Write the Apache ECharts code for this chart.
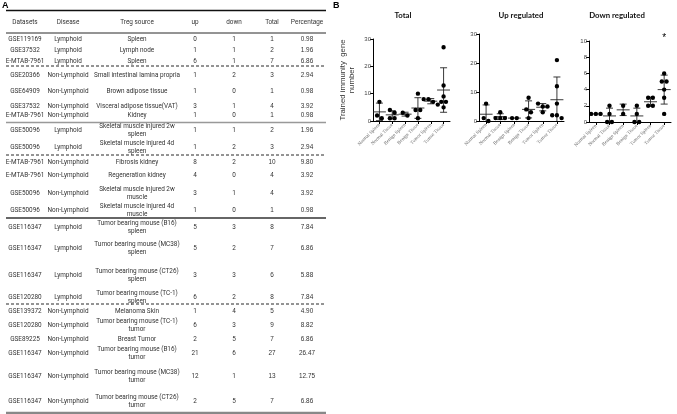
<!DOCTYPE html>
<html><head><meta charset="utf-8">
<script src="https://cdn.jsdelivr.net/npm/echarts@6/dist/echarts.min.js"></script>
<style>html,body{margin:0;padding:0;background:#fff}#c{width:677px;height:414px}</style>
</head><body><div id="c"></div>
<script>
// ---------------- Table data (panel A) ----------------
const tableHeaders = ['Datasets','Disease','Treg source','up','down','Total','Percentage'];
const datasets = ['GSE119169','GSE37532','E-MTAB-7961','GSE20366','GSE64909','GSE37532','E-MTAB-7961',
  'GSE50096','GSE50096','E-MTAB-7961','E-MTAB-7961','GSE50096','GSE50096',
  'GSE116347','GSE116347','GSE116347','GSE120280',
  'GSE139372','GSE120280','GSE89225','GSE116347','GSE116347','GSE116347'];
const diseases = ['Lymphoid','Lymphoid','Lymphoid','Non-Lymphoid','Non-Lymphoid','Non-Lymphoid','Non-Lymphoid',
  'Lymphoid','Lymphoid','Non-Lymphoid','Non-Lymphoid','Non-Lymphoid','Non-Lymphoid',
  'Lymphoid','Lymphoid','Lymphoid','Lymphoid',
  'Non-Lymphoid','Non-Lymphoid','Non-Lymphoid','Non-Lymphoid','Non-Lymphoid','Non-Lymphoid'];
const tregSources = ['Spleen','Lymph node','Spleen','Small intestinal lamina propria','Brown adipose tissue','Visceral adipose tissue(VAT)','Kidney',
  'Skeletal muscle injured 2w\nspleen','Skeletal muscle injured 4d\nspleen','Fibrosis kidney','Regeneration kidney',
  'Skeletal muscle injured 2w\nmuscle','Skeletal muscle injured 4d\nmuscle',
  'Tumor bearing mouse (B16)\nspleen','Tumor bearing mouse (MC38)\nspleen','Tumor bearing mouse (CT26)\nspleen','Tumor bearing mouse (TC-1)\nspleen',
  'Melanoma Skin','Tumor bearing mouse (TC-1)\ntumor','Breast Tumor','Tumor bearing mouse (B16)\ntumor','Tumor bearing mouse (MC38)\ntumor','Tumor bearing mouse (CT26)\ntumor'];
const upCounts = [0,1,6,1,1,3,1,1,1,8,4,3,1,5,5,3,6,1,6,2,21,12,2];
const downCounts = [1,1,1,2,0,1,0,1,2,2,0,1,0,3,2,3,2,4,3,5,6,1,5];
const totalCounts = [1,2,7,3,1,4,1,2,3,10,4,4,1,8,7,6,8,5,9,7,27,13,7];
const percentages = ['0.98','1.96','6.86','2.94','0.98','3.92','0.98','1.96','2.94','9.80','3.92','3.92','0.98',
  '7.84','6.86','5.88','7.84','4.90','8.82','6.86','26.47','12.75','6.86'];
// group (panel B category) each table row belongs to
const rowGroup = [0,0,0,1,1,1,1,2,2,3,3,3,3,4,4,4,4,5,5,5,5,5,5];

// ---------------- Panel B ----------------
const categories = ['Normal Spleen','Normal Tissue','Benign Spleen','Benign Tissue','Tumor Spleen','Tumor Tissue'];
const chartTitles = ['Total','Up regulated','Down regulated'];
const yAxisName = 'Trained immunity  gene\nnumber';
const yMax = [30, 30, 10];
const yStep = [10, 10, 2];
const significance = [{chart:2, category:5, y:10.3, text:'*'}];

function groupBy(values){
  const g = categories.map(()=>[]);
  values.forEach((v,i)=>g[rowGroup[i]].push(v));
  return g;
}
const groupsPerChart = [groupBy(totalCounts), groupBy(upCounts), groupBy(downCounts)];

// ---------------- layout (positions only) ----------------
const colX = [25, 68, 137, 195, 234, 272, 307];
const headerY = 22;
const rowY = [39,50,61,75,91,106,115,130,147,162,175,193,210,227,248,275,297,311,325,339,353,376,401];
const rules = [
  {y:10.5, w:1.3, c:'#111'},
  {y:33, w:0.9, c:'#111'},
  {y:66, w:0.9, c:'#111', dash:[3,2]},
  {y:122.5, w:1.3, c:'#999'},
  {y:155, w:0.9, c:'#111', dash:[3,2]},
  {y:218, w:1.3, c:'#333'},
  {y:304, w:0.9, c:'#111', dash:[3,2]},
  {y:413, w:2.5, c:'#888'}
];
const grids = [
  {left:373, top:39, width:77, height:82},
  {left:479, top:34, width:85, height:87},
  {left:589, top:41, width:82, height:81}
];
const titleX = [403, 521, 617];

const fontTable = 'Roboto';
const graphics = [];
graphics.push({type:'text', x:2, y:1, style:{text:'A', font:'bold 9px "Liberation Sans"', fill:'#000'}});
graphics.push({type:'text', x:333, y:1, style:{text:'B', font:'bold 9px "Liberation Sans"', fill:'#000'}});
rules.forEach(r=>graphics.push({type:'line', shape:{x1:6,y1:r.y,x2:326,y2:r.y},
  style:{stroke:r.c, lineWidth:r.w, lineDash:r.dash||null}, silent:true}));
function cell(x,y,s,arial){
  graphics.push({type:'text', x:x, y:y, silent:true, style:{text:String(s), textAlign:'center', textVerticalAlign:'middle',
    font:(arial?'6.4px "Liberation Sans"':'6.4px '+fontTable), fill:'#333', lineHeight:8}});
}
tableHeaders.forEach((h,i)=>cell(colX[i], headerY, h, i>=5));
rowY.forEach((y,i)=>{
  cell(colX[0], y, datasets[i]);
  cell(colX[1], y, diseases[i]);
  cell(colX[2], y, tregSources[i]);
  cell(colX[3], y, upCounts[i]);
  cell(colX[4], y, downCounts[i]);
  cell(colX[5], y, totalCounts[i], true);
  cell(colX[6], y, percentages[i], true);
});
chartTitles.forEach((t,i)=>graphics.push({type:'text', x:titleX[i], y:15, silent:true,
  style:{text:t, textAlign:'center', textVerticalAlign:'middle', font:'bold 7.8px Lato', fill:'#111'}}));

// ---------------- series ----------------
function stats(g){
  const n=g.length, m=g.reduce((a,b)=>a+b,0)/n;
  const sd = n>1 ? Math.sqrt(g.reduce((a,b)=>a+(b-m)*(b-m),0)/(n-1)) : 0;
  return [m, sd];
}
const R = 2.2;
function dotsSeries(ci){
  const groups = groupsPerChart[ci];
  return {type:'custom', xAxisIndex:ci, yAxisIndex:ci, clip:false, z:3,
    data: groups.map((g,i)=>[i]), encode:{x:0},
    renderItem(params, api){
      const g = groups[params.dataIndex].slice().sort((a,b)=>b-a);
      const cat = api.value(0);
      const pts = g.map(v=>api.coord([cat, v]));
      const d = R*2+0.3;
      const clusters=[]; let cur=[];
      pts.forEach(p=>{
        if(cur.length && Math.abs(p[1]-cur[cur.length-1][1]) >= d){clusters.push(cur); cur=[];}
        cur.push(p);
      });
      if(cur.length) clusters.push(cur);
      const children=[];
      clusters.forEach(c=>{
        c.forEach((p,k)=>{
          const off = (k-(c.length-1)/2)*d;
          children.push({type:'circle', shape:{cx:p[0]+off, cy:p[1], r:R}, style:{fill:'#000'}});
        });
      });
      return {type:'group', children};
    }};
}
function statsSeries(ci){
  const groups = groupsPerChart[ci];
  return {type:'custom', xAxisIndex:ci, yAxisIndex:ci, clip:true, z:2,
    data: groups.map((g,i)=>{const s=stats(g); return [i, s[0], s[1]];}),
    encode:{x:0, y:1},
    renderItem(params, api){
      const cat=api.value(0), m=api.value(1), sd=api.value(2);
      const pm=api.coord([cat,m]), pt=api.coord([cat,m+sd]), pb=api.coord([cat,m-sd]);
      const st={stroke:'#222', lineWidth:0.9};
      const ch=[{type:'line', shape:{x1:pm[0]-6.5,y1:pm[1],x2:pm[0]+6.5,y2:pm[1]}, style:st}];
      if(sd>0){
        ch.push({type:'line', shape:{x1:pt[0],y1:pt[1],x2:pb[0],y2:pb[1]}, style:st});
        ch.push({type:'line', shape:{x1:pt[0]-3.5,y1:pt[1],x2:pt[0]+3.5,y2:pt[1]}, style:st});
        ch.push({type:'line', shape:{x1:pb[0]-3.5,y1:pb[1],x2:pb[0]+3.5,y2:pb[1]}, style:st});
      }
      return {type:'group', children:ch};
    }};
}
function sigSeries(){
  return {type:'custom', xAxisIndex:2, yAxisIndex:2, clip:false, z:4,
    data: significance.map(s=>[s.category, s.y]), encode:{x:0,y:1},
    renderItem(params, api){
      const p = api.coord([api.value(0), api.value(1)]);
      return {type:'text', x:p[0], y:p[1], style:{text:significance[params.dataIndex].text,
        textAlign:'center', textVerticalAlign:'middle', font:'10px "Liberation Sans"', fill:'#000'}};
    }};
}

const axisLine = {show:true, lineStyle:{color:'#000', width:1}};
const option = {
  animation:false,
  grid: grids.map(g=>Object.assign({containLabel:false}, g)),
  xAxis: grids.map((g,i)=>({type:'category', gridIndex:i, data:categories, boundaryGap:true,
    axisLine, axisTick:{show:true, alignWithLabel:true, length:3, lineStyle:{color:'#000'}},
    axisLabel:{rotate:45, fontSize:4.9, fontFamily:'Liberation Serif', color:'#666', margin:3, interval:0}})),
  yAxis: grids.map((g,i)=>({type:'value', gridIndex:i, min:0, max:yMax[i], interval:yStep[i],
    axisLine, axisTick:{show:true, length:3, lineStyle:{color:'#000'}}, splitLine:{show:false},
    axisLabel:{fontSize:6, fontFamily:'Liberation Sans', color:'#444', margin:2},
    name: i===0 ? yAxisName : '', nameLocation:'middle', nameGap:17, nameRotate:90,
    nameTextStyle:{fontSize:7.8, fontFamily:'Liberation Sans', color:'#333', lineHeight:8.5}})),
  graphic: graphics,
  series: [
    statsSeries(0), statsSeries(1), statsSeries(2),
    dotsSeries(0), dotsSeries(1), dotsSeries(2),
    sigSeries()
  ]
};
const chart = echarts.init(document.getElementById('c'), null, {renderer:'canvas'});
chart.setOption(option);
</script>
</body></html>
